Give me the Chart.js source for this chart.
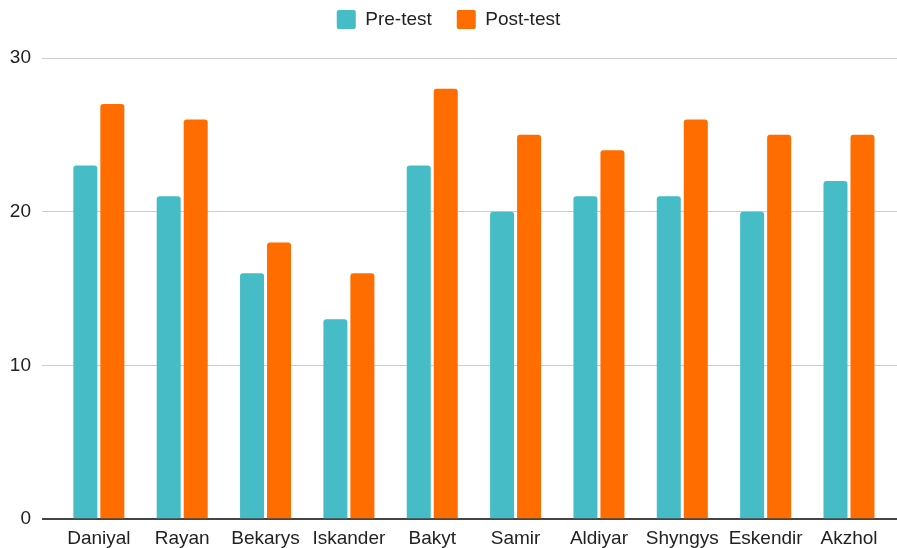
<!DOCTYPE html>
<html>
<head>
<meta charset="utf-8">
<script src="https://cdn.jsdelivr.net/npm/chart.js@4/dist/chart.umd.min.js"></script>
<style>
  html, body { margin: 0; padding: 0; background: #fff; }
  #wrap { width: 897px; height: 548px; position: relative; }
</style>
</head>
<body>
<div id="wrap"><canvas id="c"></canvas></div>
<script>
// Student scores before and after the course
const students = ['Daniyal', 'Rayan', 'Bekarys', 'Iskander', 'Bakyt', 'Samir', 'Aldiyar', 'Shyngys', 'Eskendir', 'Akzhol'];
const preTest  = [23, 21, 16, 13, 23, 20, 21, 21, 20, 22];
const postTest = [27, 26, 18, 16, 28, 25, 24, 26, 25, 25];
const yTicks   = [0, 10, 20, 30];

const TEAL = '#46BDC6';
const ORANGE = '#FF6D01';
const TEXT = '#222222';
const FONT = { family: 'Arial, "Liberation Sans", sans-serif', size: 19 };

// Extra space under the legend before the plot starts
const legendSpacer = {
  id: 'legendSpacer',
  beforeInit(chart) {
    const fit = chart.legend.fit;
    chart.legend.fit = function () {
      fit.call(this);
      this.height += 19;
    };
  }
};

new Chart(document.getElementById('c'), {
  type: 'bar',
  data: {
    datasets: [
      {
        label: 'Pre-test',
        data: preTest.map((v, i) => ({ x: i, y: v })),
        backgroundColor: TEAL,
        borderRadius: 3,
        borderSkipped: 'start'
      },
      {
        label: 'Post-test',
        data: postTest.map((v, i) => ({ x: i, y: v })),
        backgroundColor: ORANGE,
        borderRadius: 3,
        borderSkipped: 'start'
      }
    ]
  },
  options: {
    responsive: true,
    maintainAspectRatio: false,
    animation: false,
    categoryPercentage: 0.648,
    barPercentage: 0.889,
    layout: { padding: { left: 0, right: 0, top: -15, bottom: -10 } },
    plugins: {
      legend: {
        position: 'top',
        align: 'center',
        labels: {
          boxWidth: 19,
          boxHeight: 19,
          padding: 25,
          color: TEXT,
          font: FONT,
          useBorderRadius: true,
          borderRadius: 2
        }
      },
      tooltip: { enabled: false }
    },
    scales: {
      x: {
        type: 'linear',
        min: -0.682,
        max: 9.576,
        offset: false,
        afterBuildTicks(scale) {
          scale.ticks = students.map((_, i) => ({ value: i }));
        },
        ticks: {
          autoSkip: false,
          maxRotation: 0,
          padding: 8,
          color: TEXT,
          font: FONT,
          callback: (v) => students[v] ?? ''
        },
        grid: { display: false, drawTicks: false },
        border: { display: false }
      },
      y: {
        min: 0,
        max: 30,
        afterBuildTicks(scale) {
          scale.ticks = yTicks.map(v => ({ value: v }));
        },
        afterFit(scale) { scale.width = 42; },
        ticks: {
          padding: 11,
          color: TEXT,
          font: FONT
        },
        grid: {
          drawTicks: false,
          color: (ctx) => (ctx.tick && ctx.tick.value === 0 ? '#444444' : '#cccccc'),
          lineWidth: (ctx) => (ctx.tick && ctx.tick.value === 0 ? 2 : 1)
        },
        border: { display: false }
      }
    }
  },
  plugins: [legendSpacer]
});
</script>
</body>
</html>
